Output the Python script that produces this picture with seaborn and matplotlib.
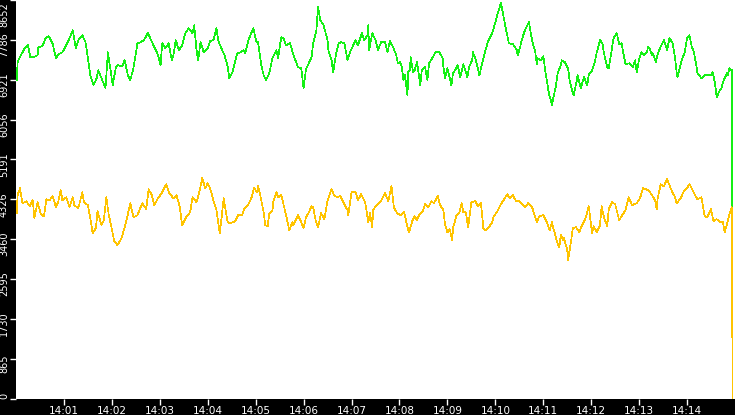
import numpy as np
import pandas as pd
import matplotlib
matplotlib.use("Agg")
import matplotlib.pyplot as plt
import matplotlib.dates as mdates
import matplotlib.transforms as mtransforms
import seaborn as sns

# ---- data (seconds after 14:00:00, value) ----
green_sec = [1, 2, 6, 11, 15, 18, 22, 27, 28, 33, 37, 41, 46, 50, 53, 58, 61, 66, 71, 75,
             78, 83, 87, 90, 93, 97, 101, 103, 108, 112, 115, 118, 121, 125, 128, 133, 136, 140, 143, 147,
             152, 156, 160, 165, 168, 172, 177, 181, 183, 187, 191, 195, 197, 200, 204, 208, 212, 216, 221, 223,
             226, 228, 231, 235, 240, 243, 247, 251, 253, 257, 261, 265, 267, 271, 273, 277, 281, 285, 287, 291,
             297, 301, 303, 307, 310, 313, 317, 321, 326, 328, 332, 335, 338, 343, 347, 353, 357, 360, 363, 370,
             372, 376, 378, 381, 385, 390, 391, 395, 397, 401, 404, 407, 411, 415, 418, 421, 425, 428, 433, 436,
             440, 441, 442, 446, 450, 453, 457, 462, 465, 468, 472, 476, 478, 481, 483, 485, 487, 490, 491, 493,
             494, 497, 499, 502, 506, 508, 512, 515, 517, 521, 525, 530, 534, 535, 537, 540, 545, 547, 551, 553,
             556, 560, 565, 567, 571, 572, 576, 580, 583, 587, 591, 596, 600, 603, 607, 610, 613, 617, 622, 627,
             628, 631, 633, 637, 642, 646, 650, 652, 653, 657, 660, 663, 667, 671, 672, 676, 678, 682, 683, 687,
             691, 693, 696, 698, 702, 703, 707, 711, 715, 717, 721, 725, 727, 731, 734, 736, 740, 742, 746, 748,
             752, 755, 758, 760, 763, 768, 772, 775, 777, 780, 783, 786, 790, 791, 793, 796, 797, 801, 803, 806,
             811, 815, 818, 822, 825, 827, 828, 833, 837, 840, 843, 846, 848, 852, 853, 858, 862, 865, 870, 872,
             875, 877, 881, 883, 885, 887, 890, 891, 893, 896, 897]
green_val = [6910, 7301, 7453, 7605, 7670, 7410, 7410, 7453, 7627, 7648, 7822, 7865, 7692, 7388, 7475, 7518, 7605, 7779, 7996, 7605,
             7779, 7887, 7735, 7388, 7019, 6802, 6954, 7127, 6910, 6736, 7518, 7171, 6802, 7192, 7236, 7214, 7344, 7019, 6910, 7171,
             7713, 7735, 7779, 7931, 7822, 7670, 7496, 7236, 7713, 7605, 7713, 7344, 7453, 7779, 7562, 7670, 7931, 8039, 7931, 8104,
             7562, 7344, 7735, 7518, 7605, 7757, 7779, 8039, 7779, 7605, 7453, 7214, 6954, 7084, 7236, 7496, 7518, 7562, 7496, 7779,
             8039, 7735, 7735, 7236, 7019, 6910, 7062, 7388, 7562, 7388, 7844, 7822, 7670, 7713, 7475, 7192, 7171, 6736, 7149, 7410,
             7713, 7996, 8495, 8213, 8104, 7779, 7562, 7344, 7084, 7518, 7713, 7735, 7713, 7344, 7518, 7627, 7779, 7670, 7931, 7779,
             7887, 8104, 7562, 7931, 7779, 7562, 7735, 7735, 7518, 7757, 7627, 7453, 7279, 7301, 7192, 6910, 7019, 6584, 7084, 7127,
             7410, 7084, 7127, 7301, 6802, 7127, 7192, 6910, 7279, 7388, 7518, 7518, 7388, 7192, 6954, 7171, 6802, 7062, 7171, 7236,
             6975, 7258, 6975, 7192, 7344, 7518, 7323, 7019, 7236, 7518, 7757, 7931, 8169, 8365, 8582, 8321, 8039, 7713, 7692, 7562,
             7453, 7627, 7779, 7996, 8169, 7779, 7518, 7258, 7388, 7344, 7431, 7062, 6628, 6367, 6476, 6802, 7062, 7236, 7344, 7301,
             7171, 6910, 6693, 6584, 6910, 7019, 6736, 6975, 6802, 7041, 7106, 7344, 7518, 7779, 7713, 7496, 7192, 7171, 7605, 7822,
             7931, 7692, 7713, 7518, 7258, 7279, 7192, 7344, 7084, 7366, 7518, 7453, 7518, 7627, 7605, 7453, 7496, 7301, 7453, 7605,
             7779, 7562, 7822, 7713, 7388, 7084, 6975, 7323, 7518, 7822, 7887, 7627, 7562, 7192, 7062, 6954, 7019, 7019, 7019, 7084,
             6845, 6541, 6693, 6736, 6867, 6954, 7062, 7019, 7171, 7127, 0]

orange_sec = [1, 2, 5, 7, 8, 13, 17, 21, 23, 27, 31, 35, 38, 42, 46, 50, 53, 56, 58, 63,
              67, 71, 73, 78, 83, 85, 90, 93, 96, 100, 102, 107, 110, 113, 116, 120, 123, 127, 132, 136,
              140, 143, 147, 152, 158, 163, 166, 170, 173, 177, 183, 188, 192, 197, 201, 205, 208, 213, 216, 218,
              221, 226, 230, 233, 237, 240, 243, 247, 251, 253, 255, 257, 260, 262, 265, 268, 272, 275, 278, 283,
              286, 291, 295, 298, 302, 303, 306, 310, 312, 315, 317, 321, 322, 326, 328, 332, 336, 340, 342, 346,
              347, 350, 353, 356, 360, 363, 366, 370, 372, 375, 378, 382, 386, 390, 395, 398, 402, 406, 411, 415,
              416, 420, 425, 428, 432, 437, 441, 443, 446, 447, 451, 456, 462, 466, 470, 473, 477, 482, 486, 490,
              492, 496, 499, 502, 505, 509, 512, 516, 520, 523, 528, 531, 535, 537, 540, 543, 546, 547, 551, 555,
              558, 560, 563, 566, 570, 575, 578, 582, 585, 588, 592, 596, 598, 602, 607, 611, 615, 618, 622, 626,
              630, 633, 637, 641, 646, 648, 652, 655, 660, 662, 665, 668, 671, 672, 675, 677, 680, 682, 685, 686,
              690, 691, 695, 697, 701, 705, 708, 712, 715, 717, 721, 723, 727, 731, 733, 736, 740, 742, 746, 750,
              755, 758, 763, 767, 771, 777, 781, 785, 788, 792, 796, 800, 802, 803, 807, 811, 815, 818, 821, 825,
              827, 832, 836, 840, 843, 847, 850, 853, 858, 862, 865, 870, 873, 877, 882, 885, 887, 891, 893, 896,
              897]
orange_val = [4023, 4414, 4566, 4348, 4240, 4283, 4175, 4305, 3914, 4262, 4001, 3958, 4327, 4305, 4392, 4153, 4283, 4522, 4305, 4370,
              4153, 4370, 4197, 4131, 4479, 4262, 4197, 3914, 3589, 3697, 4066, 3762, 3871, 4370, 4001, 3675, 3415, 3328, 3480, 3719,
              4001, 4240, 3936, 3980, 4240, 4110, 4544, 4414, 4197, 4327, 4479, 4652, 4457, 4348, 4414, 4153, 3762, 3936, 4001, 4045,
              4370, 4262, 4522, 4783, 4566, 4674, 4566, 4305, 4088, 3827, 3589, 3871, 4348, 4131, 3827, 3806, 3827, 3871, 3980, 3980,
              4131, 4218, 4370, 4566, 4479, 4609, 4392, 4045, 3762, 3741, 4001, 4088, 4262, 4479, 4370, 4414, 4131, 3827, 3654, 3827,
              3762, 3871, 3980, 3871, 3697, 3936, 4023, 4175, 4153, 3871, 3719, 4023, 3893, 4305, 4544, 4414, 4370, 4392, 4218, 4088,
              3980, 4479, 4479, 4305, 4435, 4262, 3827, 4023, 3719, 4088, 4197, 4262, 4457, 4283, 4609, 4153, 4023, 3980, 4045, 3719,
              3610, 3849, 3958, 3871, 4001, 4066, 4218, 4153, 4283, 4240, 4392, 4197, 4088, 3784, 3610, 3675, 3437, 3697, 3958, 4045,
              4240, 4045, 4045, 3719, 4262, 4283, 4175, 4240, 3697, 3654, 3719, 3827, 3958, 4045, 4218, 4327, 4435, 4348, 4414, 4283,
              4283, 4240, 4153, 4240, 4153, 4045, 3827, 3958, 3980, 3914, 3806, 3654, 3827, 3741, 3545, 3415, 3285, 3545, 3437, 3480,
              3220, 3003, 3437, 3697, 3719, 3610, 3741, 3871, 4045, 4175, 3589, 3741, 3610, 3762, 4175, 3936, 3741, 4110, 4262, 4218,
              3871, 3958, 4088, 4370, 4197, 4240, 4348, 4566, 4544, 4522, 4414, 4305, 4110, 4327, 4652, 4609, 4761, 4631, 4500, 4370,
              4240, 4348, 4500, 4566, 4652, 4522, 4414, 4327, 4370, 3958, 3936, 4110, 3849, 3893, 3827, 3827, 3610, 3849, 4001, 4153,
              0]

y_max = 8652
start = pd.Timestamp("2024-01-01 14:00:00")
end = start + pd.Timedelta(minutes=15)

green_df = pd.DataFrame({"time": start + pd.to_timedelta(green_sec, unit="s"), "value": green_val})
orange_df = pd.DataFrame({"time": start + pd.to_timedelta(orange_sec, unit="s"), "value": orange_val})

plt.rcParams["font.family"] = ["DejaVu Sans"]

W, H, DPI = 735, 415, 100
fig = plt.figure(figsize=(W / DPI, H / DPI), dpi=DPI, facecolor="black")
ax = fig.add_axes([16 / W, 16.5 / H, 1 - 16 / W, 1 - 16.5 / H])
ax.set_facecolor("white")

sns.lineplot(data=green_df, x="time", y="value", ax=ax, color="#14f014", linewidth=0.5,
             antialiased=False)
sns.lineplot(data=orange_df, x="time", y="value", ax=ax, color="#ffc400", linewidth=0.5,
             antialiased=False)

ax.set_xlim(start, end)
ax.set_ylim(0, y_max)
for s in ax.spines.values():
    s.set_visible(False)
ax.set_xlabel("")
ax.set_ylabel("")

xt = pd.date_range(start + pd.Timedelta(minutes=1), start + pd.Timedelta(minutes=14), freq="1min")
ax.set_xticks(xt)
ax.xaxis.set_major_formatter(mdates.DateFormatter("%H:%M"))

yt = np.linspace(0, y_max, 11)
ax.set_yticks(yt)
ax.set_yticklabels([str(int(v)) for v in yt])

ax.tick_params(axis="both", colors="white", labelsize=7.5, length=4, width=1, direction="out")
ax.tick_params(axis="x", pad=1.5)
ax.tick_params(axis="y", pad=1, labelsize=7, labelrotation=90)

labs = ax.get_yticklabels()
down = mtransforms.ScaledTranslation(0, -5 / DPI, fig.dpi_scale_trans)
for lab in labs[1:-1]:
    lab.set_va("center")
    lab.set_transform(lab.get_transform() + down)
labs[0].set_va("bottom")
labs[-1].set_va("top")
labs[-1].set_transform(labs[-1].get_transform() +
                       mtransforms.ScaledTranslation(0, -2 / DPI, fig.dpi_scale_trans))

fig.savefig("out.png", dpi=DPI, facecolor="black")
